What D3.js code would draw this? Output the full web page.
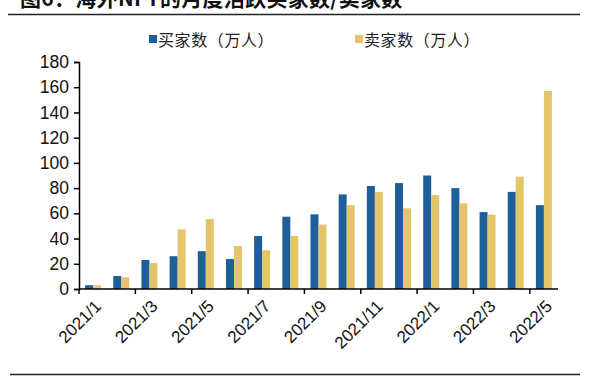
<!DOCTYPE html>
<html><head><meta charset="utf-8">
<script src="https://cdn.jsdelivr.net/npm/d3@7/dist/d3.min.js"></script>
<style>html,body{margin:0;padding:0;background:#fff;}svg{display:block;}</style>
</head><body>
<svg id="c" width="600" height="380"></svg>
<script>
const categories = ["2021/1","2021/2","2021/3","2021/4","2021/5","2021/6","2021/7","2021/8","2021/9","2021/10","2021/11","2021/12","2022/1","2022/2","2022/3","2022/4","2022/5"];
const buyers  = [3, 10.3, 23, 26, 30, 23.8, 42, 57.3, 59.2, 75, 81.7, 84, 90, 80, 61, 77, 66.5];
const sellers = [3, 9.3, 20.6, 47.3, 55.5, 34, 30.7, 42, 51, 66.5, 77, 64, 74.5, 68, 59, 89, 157];
const yTicks = [0,20,40,60,80,100,120,140,160,180];
const seriesNames = ["买家数（万人）","卖家数（万人）"];
const colors = ["#1f5f99","#e4c56a"];
const title = "图6：海外NFT的月度活跃买家数/卖家数";

const svg = d3.select("#c");
const L = 79, R = 558, T = 62, B = 289;
const x = d3.scaleBand().domain(categories).range([L, R]).padding(0);
const y = d3.scaleLinear().domain([0,180]).range([B, T]);
const latin = "'Liberation Sans', Arial, 'Noto Sans CJK SC', sans-serif";
const cjk = "'Noto Sans CJK SC', 'Liberation Sans', sans-serif";

// title (cut off at top, as in the source image)
svg.append("text").attr("x", 20).attr("y", 6)
  .attr("font-family", "'Noto Sans CJK SC', sans-serif").attr("font-weight", "bold")
  .attr("font-size", 21).attr("letter-spacing", 0.3).attr("fill", "#111").text(title);
svg.append("line").attr("x1", 8).attr("x2", 580).attr("y1", 14.5).attr("y2", 14.5)
  .attr("stroke", "#222").attr("stroke-width", 1.5);
svg.append("line").attr("x1", 10).attr("x2", 580).attr("y1", 374.5).attr("y2", 374.5)
  .attr("stroke", "#222").attr("stroke-width", 1.5);

// bars
const bw = 8;
const g = svg.append("g");
g.selectAll("rect.b").data(categories).join("rect").attr("class","b")
  .attr("x", d => x(d) + x.bandwidth()/2 - bw)
  .attr("width", bw)
  .attr("y", (d,i) => y(buyers[i]))
  .attr("height", (d,i) => B - y(buyers[i]))
  .attr("fill", colors[0]);
g.selectAll("rect.s").data(categories).join("rect").attr("class","s")
  .attr("x", d => x(d) + x.bandwidth()/2)
  .attr("width", bw)
  .attr("y", (d,i) => y(sellers[i]))
  .attr("height", (d,i) => B - y(sellers[i]))
  .attr("fill", colors[1]);

// y axis
const ya = svg.append("g").attr("transform", `translate(${L},0)`)
  .call(d3.axisLeft(y).tickValues(yTicks).tickSize(5).tickPadding(5));
ya.select(".domain").attr("stroke", "#000").attr("stroke-width", 1.5);
ya.selectAll(".tick line").attr("stroke", "#000").attr("stroke-width", 1.5);
ya.selectAll("text").attr("font-family", latin).attr("font-size", 17.5).attr("fill", "#111");

// x axis
const xa = svg.append("g").attr("transform", `translate(0,${B})`);
xa.append("line").attr("x1", L).attr("x2", R).attr("stroke", "#000").attr("stroke-width", 1.5);
const tickIdx = d3.range(0, categories.length, 2);
xa.selectAll("line.tk").data(tickIdx).join("line").attr("class","tk")
  .attr("x1", i => x(categories[i])).attr("x2", i => x(categories[i]))
  .attr("y1", 0).attr("y2", 5).attr("stroke", "#000").attr("stroke-width", 1.5);
xa.selectAll("text").data(tickIdx).join("text")
  .attr("transform", i => `translate(${x(categories[i]) + x.bandwidth()/2 + 5},${14}) rotate(-45)`)
  .attr("text-anchor", "end").attr("dy", "0.35em")
  .attr("font-family", latin).attr("font-size", 17).attr("fill", "#111")
  .text(i => categories[i]);

// legend
const lg = [{x:149},{x:355}];
seriesNames.forEach((n, i) => {
  svg.append("rect").attr("x", lg[i].x).attr("y", 35).attr("width", 8).attr("height", 8).attr("fill", colors[i]);
  svg.append("text").attr("x", lg[i].x + 9).attr("y", 46).attr("font-family", cjk)
    .attr("font-size", 16).attr("letter-spacing", 0.6).attr("fill", "#222").text(n);
});
</script>
</body></html>
